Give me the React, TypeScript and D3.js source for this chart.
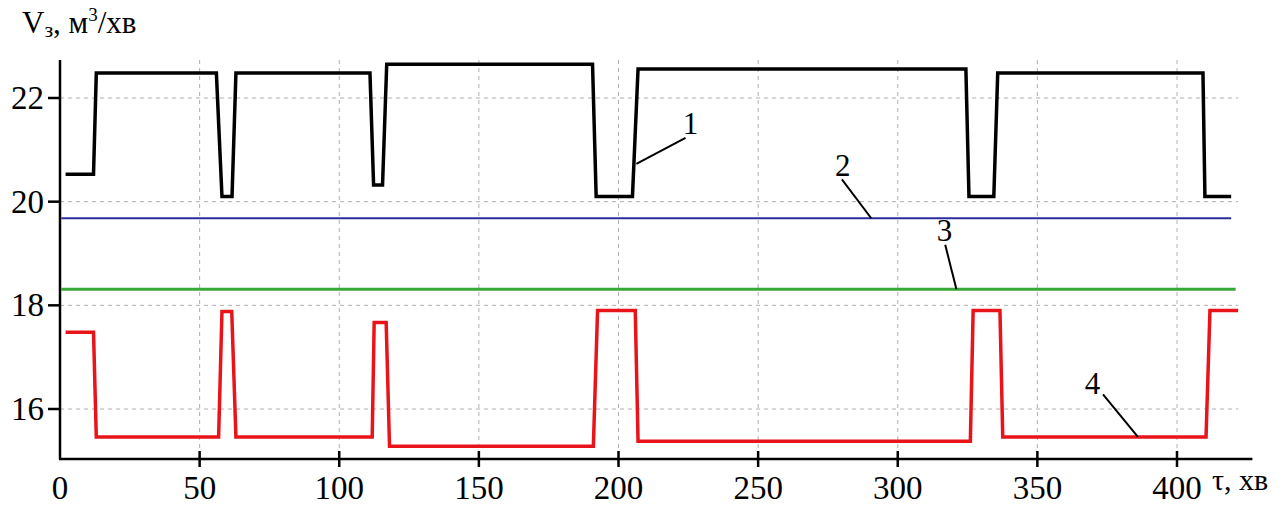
import React from 'react';
import * as d3 from 'd3';

// series 1 (black) and 4 (red), time in minutes
const t1 = [2, 12, 13, 56, 58, 61.6, 63, 111, 112.3, 115.5, 117, 190.7, 192, 205, 207, 324.4, 325.5, 334.4, 335.8, 409.3, 410, 419.4];
const v1 = [20.53, 20.53, 22.48, 22.48, 20.1, 20.1, 22.48, 22.48, 20.32, 20.32, 22.65, 22.65, 20.1, 20.1, 22.56, 22.56, 20.1, 20.1, 22.48, 22.48, 20.1, 20.1];
const t4 = [2, 12, 13, 56.8, 58, 61.5, 63, 111.8, 112.5, 116.8, 118, 191, 192.5, 206, 207, 326, 327, 336.6, 337.6, 410.4, 411.8, 421.9];
const v4 = [17.48, 17.48, 15.46, 15.46, 17.88, 17.88, 15.46, 15.46, 17.67, 17.67, 15.28, 15.28, 17.9, 17.9, 15.38, 15.38, 17.9, 17.9, 15.46, 15.46, 17.9, 17.9];
// series 2 (blue) and 3 (green) are constant
const t2 = [0.5, 419.4];
const v2 = [19.68, 19.68];
const t3 = [0.5, 421];
const v3 = [18.31, 18.31];

const xTicks = [0, 50, 100, 150, 200, 250, 300, 350, 400];
const yTicks = [16, 18, 20, 22];

// leader labels: [label, text x, text y, from x, from y, to x, to y] in data units
const notes: [string, number, number, number, number, number, number][] = [
  ['1', 223, 21.3, 224, 21.23, 206.4, 20.73],
  ['2', 277.5, 20.5, 280, 20.43, 290.5, 19.68],
  ['3', 314, 19.25, 317, 19.17, 321, 18.31],
  ['4', 367, 16.28, 373.5, 16.28, 386, 15.46],
];

const font = "'Liberation Serif', 'Times New Roman', serif";

export default function App() {
  const x = d3.scaleLinear().domain([0, 400]).range([60, 1177]);
  const y = d3.scaleLinear().domain([16, 22]).range([409, 98]);
  const left = x(0);
  const right = x(427);
  const bottom = y(15.035);
  const top = y(22.733);

  const line = d3.line<[number, number]>().x((d) => x(d[0])).y((d) => y(d[1]));
  const series: [number[], number[], string, number][] = [
    [t2, v2, '#2d2d9b', 2],
    [t3, v3, '#38a838', 3],
    [t4, v4, '#e8141a', 3.5],
    [t1, v1, '#000', 3.5],
  ];

  return (
    <svg width={1285} height={506} style={{ position: 'absolute', left: 0, top: 0, background: '#fff', fontFamily: font }}>
      {/* grid */}
      <g stroke="#b0b0b0" strokeWidth={1} strokeDasharray="4,4">
        {yTicks.map((d) => (
          <line key={'gy' + d} x1={left} x2={x(422)} y1={y(d)} y2={y(d)} />
        ))}
        {xTicks.slice(1).map((d) => (
          <line key={'gx' + d} x1={x(d)} x2={x(d)} y1={top} y2={bottom} />
        ))}
      </g>

      {series.map(([ts, vs, c, sw], i) => (
        <path key={i} d={line(ts.map((t, j) => [t, vs[j]] as [number, number])) || ''} fill="none" stroke={c} strokeWidth={sw} />
      ))}

      {/* axes */}
      <line x1={left} x2={left} y1={top} y2={bottom} stroke="#000" strokeWidth={2.5} />
      <line x1={left - 1} x2={right} y1={bottom} y2={bottom} stroke="#000" strokeWidth={2.5} />
      {yTicks.map((d) => (
        <g key={'ty' + d}>
          <line x1={left - 12} x2={left} y1={y(d)} y2={y(d)} stroke="#000" strokeWidth={2.5} />
          <text x={left - 16} y={y(d) + 11} textAnchor="end" style={{ fontFamily: font, fontSize: '33px' }}>{d}</text>
        </g>
      ))}
      {xTicks.map((d) => (
        <g key={'tx' + d}>
          {d !== 0 && <line x1={x(d)} x2={x(d)} y1={bottom - 8} y2={bottom + 8} stroke="#000" strokeWidth={2.5} />}
          <text x={x(d)} y={499} textAnchor="middle" style={{ fontFamily: font, fontSize: '33px' }}>{d}</text>
        </g>
      ))}

      {/* annotations */}
      {notes.map(([lab, tx, ty, fx, fy, ex, ey]) => (
        <g key={'n' + lab}>
          <text x={x(tx)} y={y(ty)} style={{ fontFamily: font, fontSize: '31px' }}>{lab}</text>
          <line x1={x(fx)} y1={y(fy)} x2={x(ex)} y2={y(ey)} stroke="#000" strokeWidth={2} />
        </g>
      ))}

      {/* axis titles */}
      <text x={22} y={33} style={{ fontFamily: font, fontSize: '31px' }}>
        <tspan>V</tspan>
        <tspan dy={4} style={{ fontSize: '22px' }}>з</tspan>
        <tspan dy={-4}>, м</tspan>
        <tspan dy={-12} style={{ fontSize: '19px' }}>3</tspan>
        <tspan dy={12}>/хв</tspan>
      </text>
      <text x={1212} y={490} style={{ fontFamily: font, fontSize: '30px' }}>τ, хв</text>
    </svg>
  );
}
